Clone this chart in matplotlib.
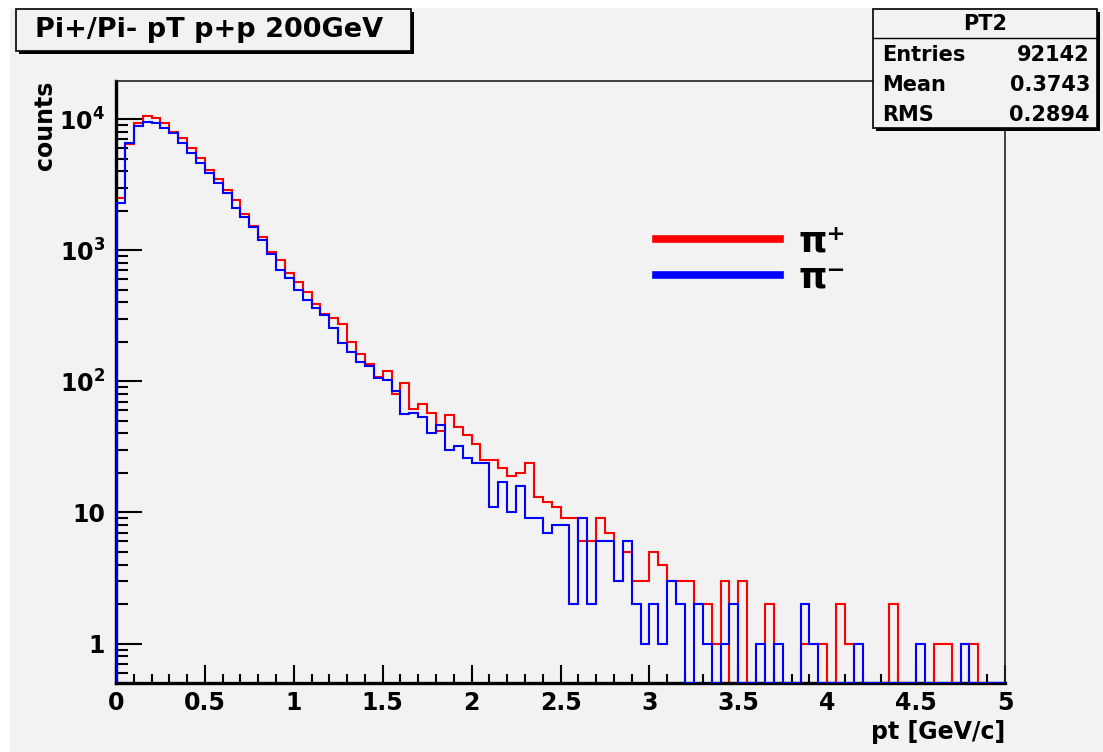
import matplotlib
matplotlib.use("Agg")
import matplotlib.pyplot as plt
import numpy as np
from matplotlib.patches import Rectangle
from matplotlib.lines import Line2D
from matplotlib.ticker import MultipleLocator, LogLocator, FuncFormatter, NullFormatter

W, H = 1103, 752
BG = "#f2f2f2"

# pt histogram, 100 bins of 0.05 GeV/c between 0 and 5
pt_lo, pt_hi, nbins = 0.0, 5.0, 100

pi_plus = [2480, 6400, 9270, 10540, 10230, 9270, 8000, 7120, 5970, 5010,
           4080, 3480, 2870, 2410, 1880, 1535, 1250, 960, 839, 664,
           573, 481, 387, 325, 306, 272, 200, 161, 135, 108,
           120, 80, 97, 62, 67, 57, 42, 55, 45, 39,
           33, 25, 25, 22, 19, 20, 24, 13, 12, 11,
           9, 9, 6, 6, 9, 7, 3, 5, 3, 3,
           5, 4, 3, 3, 3, 2, 2, 1, 3, 0,
           3, 0, 0, 2, 0, 0, 0, 1, 1, 1,
           0, 2, 1, 0, 0, 0, 0, 2, 0, 0,
           0, 0, 1, 1, 0, 0, 1, 0, 0, 0]

pi_minus = [2275, 6600, 8850, 9530, 9370, 8590, 7860, 6600, 5530, 4590,
            3890, 3265, 2710, 2080, 1795, 1507, 1192, 932, 703, 608,
            501, 415, 359, 319, 257, 196, 167, 140, 130, 106,
            102, 84, 56, 57, 53, 40, 46, 30, 32, 26,
            24, 24, 11, 17, 10, 16, 9, 9, 7, 8,
            8, 2, 9, 2, 6, 6, 3, 6, 2, 1,
            2, 1, 3, 2, 0, 2, 1, 0, 1, 2,
            0, 0, 1, 0, 1, 0, 0, 2, 1, 0,
            0, 0, 0, 1, 0, 0, 0, 0, 0, 0,
            1, 0, 0, 0, 0, 1, 0, 0, 0, 0]

stat_names = ["Entries", "Mean", "RMS"]
stat_values = ["92142", "0.3743", "0.2894"]

ylo, yhi = 0.5, 1.95e4

plt.rcParams["font.family"] = ["DejaVu Sans"]
plt.rcParams["font.weight"] = "bold"
plt.rcParams["mathtext.default"] = "regular"


def fx(x):
    return x / W


def fy(y):
    return 1 - y / H


fig = plt.figure(figsize=(W / 100, H / 100), dpi=100, facecolor="white")
# grey canvas like ROOT
fig.add_artist(Rectangle((fx(10), 0), fx(W - 10), fy(8), transform=fig.transFigure,
                         facecolor=BG, edgecolor="none", zorder=0))

ax = fig.add_axes([fx(116), fy(683), fx(1005 - 116), (683 - 81) / H])
ax.set_facecolor(BG)

edges = np.linspace(pt_lo, pt_hi, nbins + 1)
hp = np.array(pi_plus, dtype=float)
hm = np.array(pi_minus, dtype=float)
# empty bins sit on the bottom of the frame in log scale
ax.stairs(np.where(hp > 0, hp, ylo), edges, color="red", lw=1.5, zorder=2)
ax.stairs(np.where(hm > 0, hm, ylo), edges, color="blue", lw=1.5, zorder=3)

ax.set_yscale("log")
ax.set_xlim(pt_lo, pt_hi)
ax.set_ylim(ylo, yhi)

ax.xaxis.set_major_locator(MultipleLocator(0.5))
ax.xaxis.set_minor_locator(MultipleLocator(0.1))
ax.xaxis.set_major_formatter(FuncFormatter(lambda v, p: "%g" % v))
ax.yaxis.set_major_locator(LogLocator(base=10))
ax.yaxis.set_minor_locator(LogLocator(base=10, subs=np.arange(2, 10)))
ax.yaxis.set_minor_formatter(NullFormatter())


def ylab(v, p):
    e = int(round(np.log10(v)))
    if e == 0:
        return "1"
    if e == 1:
        return "10"
    return r"$\mathregular{10^{%d}}$" % e


ax.yaxis.set_major_formatter(FuncFormatter(ylab))

ax.tick_params(axis="x", which="major", direction="in", length=13, width=1.5,
               labelsize=17, pad=6, top=False)
ax.tick_params(axis="x", which="minor", direction="in", length=6.5, width=1.5, top=False)
ax.tick_params(axis="y", which="major", direction="in", length=18.5, width=1.5,
               labelsize=17, pad=8, right=False)
ax.tick_params(axis="y", which="minor", direction="in", length=8.5, width=1.5, right=False)
for lab in ax.get_xticklabels() + ax.get_yticklabels():
    lab.set_fontweight("bold")

for s in ["left", "bottom"]:
    ax.spines[s].set_linewidth(2.4)
for s in ["top", "right"]:
    ax.spines[s].set_linewidth(1.2)
    ax.spines[s].set_color("#222222")

ax.set_xlabel("pt [GeV/c]", fontsize=17, fontweight="bold", loc="right")
ax.xaxis.set_label_coords(1.0, -0.062)
ax.set_ylabel("counts", fontsize=17, fontweight="bold", loc="top")
ax.yaxis.set_label_coords(-0.066, 1.0)

handles = [Line2D([], [], color="red", lw=5.5), Line2D([], [], color="blue", lw=5.5)]
ax.legend(handles, ["π⁺", "π⁻"], loc="center left", bbox_to_anchor=(0.607, 0.703),
          frameon=False, fontsize=26, handlelength=3.45, handletextpad=0.5,
          labelspacing=0.05, borderpad=0, borderaxespad=0)

# title box with shadow
fig.add_artist(Rectangle((fx(19), fy(54)), fx(411 - 16), (51 - 9) / H, transform=fig.transFigure,
                         facecolor="black", edgecolor="none", zorder=5))
fig.add_artist(Rectangle((fx(16), fy(51)), fx(411 - 16), (51 - 9) / H, transform=fig.transFigure,
                         facecolor=BG, edgecolor="black", lw=1.2, zorder=6))
fig.text(fx(35), fy(30), "Pi+/Pi- pT p+p 200GeV", fontsize=19.5, fontweight="bold",
         ha="left", va="center", zorder=7)

# stats box
bx0, bx1, by0, by1 = 873, 1097, 9, 128
fig.add_artist(Rectangle((fx(bx0 + 3), fy(by1 + 3)), fx(bx1 - bx0), (by1 - by0) / H,
                         transform=fig.transFigure, facecolor="black", edgecolor="none", zorder=5))
fig.add_artist(Rectangle((fx(bx0), fy(by1)), fx(bx1 - bx0), (by1 - by0) / H,
                         transform=fig.transFigure, facecolor=BG, edgecolor="black", lw=1.2, zorder=6))
fig.add_artist(Line2D([fx(bx0), fx(bx1)], [fy(38), fy(38)], transform=fig.transFigure,
                      color="black", lw=1.0, zorder=7))
fig.text(fx((bx0 + bx1) / 2), fy(24), "PT2", fontsize=15, fontweight="bold",
         ha="center", va="center", zorder=7)
for i, (n, v) in enumerate(zip(stat_names, stat_values)):
    yy = 55 + 30 * i
    fig.text(fx(bx0 + 9), fy(yy), n, fontsize=15, fontweight="bold", ha="left", va="center", zorder=7)
    fig.text(fx(bx1 - 7), fy(yy), v, fontsize=15, fontweight="bold", ha="right", va="center", zorder=7)

fig.savefig("out.png", dpi=100, facecolor=fig.get_facecolor())
